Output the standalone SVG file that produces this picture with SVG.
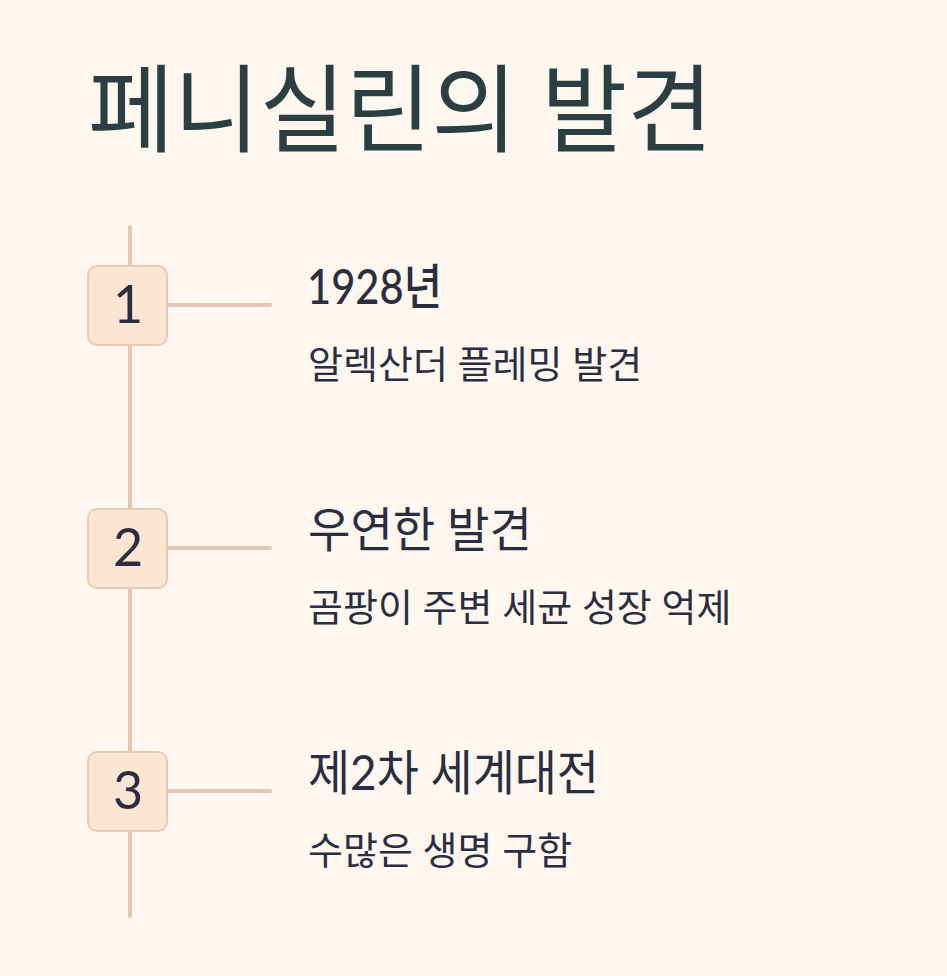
<svg xmlns="http://www.w3.org/2000/svg" width="947" height="976" viewBox="0 0 947 976">
<style>
.title{font-family:Lato,"Noto Sans CJK KR",sans-serif;font-size:96px;fill:#2b3f42}
.num{font-family:Lato,"Noto Sans CJK KR",sans-serif;font-size:52px;fill:#2a2e40;text-anchor:middle}
.head{font-family:Lato,"Noto Sans CJK KR",sans-serif;font-size:48px;fill:#2a2e40}
.sub{font-family:Lato,"Noto Sans CJK KR",sans-serif;font-size:38px;fill:#2a2e40}
.box{fill:#fde5d4;stroke:#e8cbb4;stroke-width:2}
.ln{stroke:#e3c7b3;stroke-width:4;stroke-linecap:round;fill:none}
</style>
<rect width="947" height="976" fill="#fef7f0"/>
<text class="title" x="88" y="144" textLength="625" lengthAdjust="spacingAndGlyphs">페니실린의 발견</text>
<g id="connectors">
<line class="ln" x1="130" y1="227" x2="130" y2="916"/>
<line class="ln" x1="167" y1="305" x2="270" y2="305"/>
<line class="ln" x1="167" y1="548" x2="270" y2="548"/>
<line class="ln" x1="167" y1="791" x2="270" y2="791"/>
</g>
<g id="node1">
<rect class="box" x="88" y="266" width="79" height="79" rx="9"/>
<text class="num" x="128" y="323">1</text>
<text class="head" x="307" y="304" textLength="135" lengthAdjust="spacingAndGlyphs" style="font-weight:500">1928년</text>
<text class="sub" x="308" y="378">알렉산더 플레밍 발견</text>
</g>
<g id="node2">
<rect class="box" x="88" y="509" width="79" height="79" rx="9"/>
<text class="num" x="128" y="566">2</text>
<text class="head" x="308" y="547" textLength="224" lengthAdjust="spacingAndGlyphs">우연한 발견</text>
<text class="sub" x="308" y="621">곰팡이 주변 세균 성장 억제</text>
</g>
<g id="node3">
<rect class="box" x="88" y="752" width="79" height="79" rx="9"/>
<text class="num" x="128" y="809">3</text>
<text class="head" x="308" y="790" textLength="291" lengthAdjust="spacingAndGlyphs">제2차 세계대전</text>
<text class="sub" x="308" y="864">수많은 생명 구함</text>
</g>
</svg>
